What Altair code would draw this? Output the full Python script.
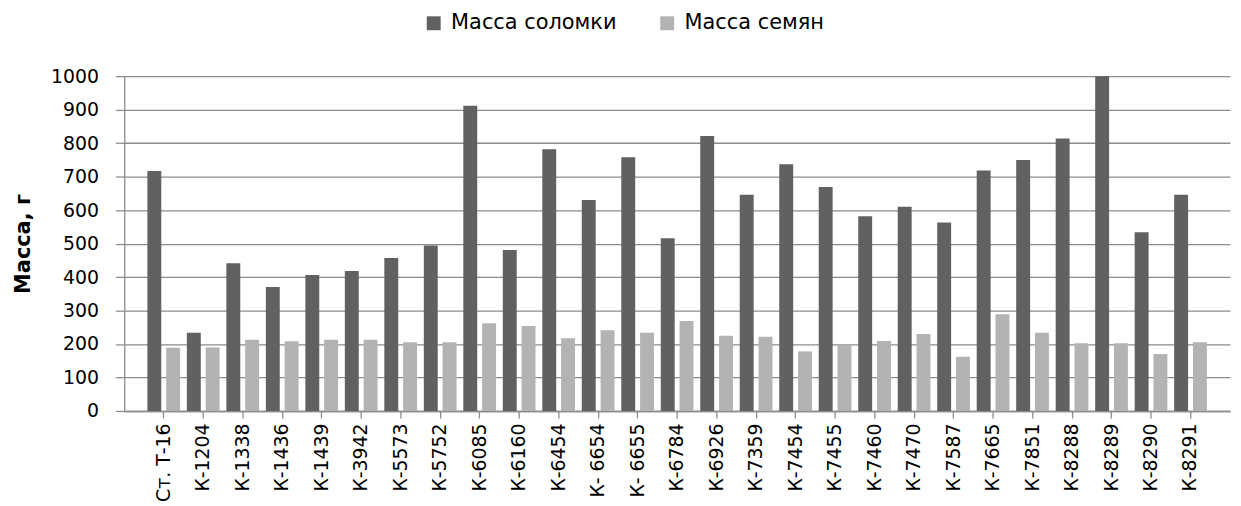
import altair as alt
import pandas as pd

categories = ["Ст. Т-16", "К-1204", "К-1338", "К-1436", "К-1439", "К-3942", "К-5573",
              "К-5752", "К-6085", "К-6160", "К-6454", "К- 6654", "К- 6655", "К-6784",
              "К-6926", "К-7359", "К-7454", "К-7455", "К-7460", "К-7470", "К-7587",
              "К-7665", "К-7851", "К-8288", "К-8289", "К-8290", "К-8291"]
straw = [717, 234, 441, 370, 406, 418, 457, 494, 912, 481, 782, 630, 758, 516,
         821, 646, 737, 669, 582, 610, 563, 718, 750, 814, 1000, 534, 646]
seeds = [189, 190, 213, 208, 213, 213, 205, 205, 262, 254, 217, 241, 234, 269,
         225, 222, 178, 198, 209, 230, 162, 289, 234, 202, 202, 170, 205]
series = ["Масса соломки", "Масса семян"]
colors = ["#616161", "#b3b3b3"]
y_ticks = [0, 100, 200, 300, 400, 500, 600, 700, 800, 900, 1000]

rows = []
for c, a, b in zip(categories, straw, seeds):
    rows.append({"cat": c, "series": series[0], "val": a})
    rows.append({"cat": c, "series": series[1], "val": b})
df = pd.DataFrame(rows)

FONT = "DejaVu Sans"
FS = 19
GRID = "#8c8c8c"

chart = alt.Chart(df).mark_bar().encode(
    x=alt.X("cat:N", sort=categories,
            scale=alt.Scale(paddingInner=0, paddingOuter=0.5),
            axis=alt.Axis(title=None, labelAngle=-90, labelFontSize=FS, labelFont=FONT,
                          labelColor="#000000", tickSize=7, tickColor=GRID,
                          domainColor=GRID, domainWidth=1.3, tickWidth=1.3,
                          labelPadding=5, labelLimit=300, grid=False)),
    xOffset=alt.XOffset("series:N", sort=series,
                        scale=alt.Scale(paddingInner=0.26, paddingOuter=0.18)),
    y=alt.Y("val:Q", scale=alt.Scale(domain=[0, 1000], nice=False),
            axis=alt.Axis(title="Масса, г", values=y_ticks, format="d", labelFontSize=FS,
                          labelFont=FONT, labelColor="#000000", titleFont=FONT,
                          titleFontSize=21, titleFontWeight="bold", titleColor="#000000",
                          tickSize=9, tickColor=GRID, tickWidth=1.3, domainColor=GRID,
                          domainWidth=1.3, labelPadding=17, titlePadding=17,
                          grid=True, gridColor=GRID, gridWidth=1.3)),
    color=alt.Color("series:N", sort=series,
                    scale=alt.Scale(domain=series, range=colors),
                    legend=alt.Legend(orient="none", legendX=301, legendY=-64,
                                      direction="horizontal", title=None,
                                      symbolType="square", symbolSize=196,
                                      symbolStrokeWidth=0, labelFontSize=21,
                                      labelFont=FONT, labelColor="#000000",
                                      labelLimit=400, columnPadding=40, padding=0,
                                      labelOffset=7)),
).properties(
    width=1113, height=337,
    autosize=alt.AutoSizeParams(type="none"),
    padding={"left": 117, "top": 67, "right": 3, "bottom": 94},
).configure_view(stroke=None)

chart.save("out.html", embed_options={"renderer": "svg", "actions": False})
